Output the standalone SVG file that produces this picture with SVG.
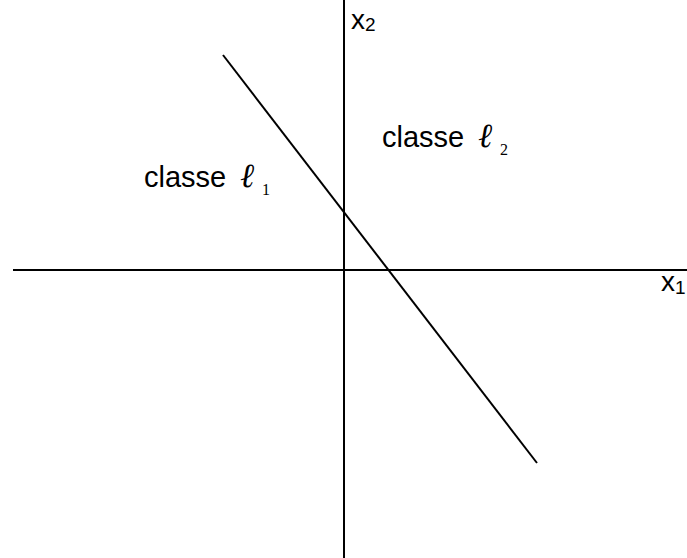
<svg xmlns="http://www.w3.org/2000/svg" width="687" height="558" viewBox="0 0 687 558">
<style>
.ln{stroke:#000;stroke-width:2;fill:none}
.t{font-family:"Liberation Sans",Arial,sans-serif;font-size:29px;fill:#000}
.ell{font-family:"Liberation Serif","Times New Roman",serif;font-style:italic;font-size:34px;fill:#000}
.sub{font-family:"Liberation Serif","Times New Roman",serif;font-size:16px;fill:#000}
.ax{font-family:"Liberation Sans",Arial,sans-serif;font-size:28px;fill:#000}
.axs{font-family:"Liberation Sans",Arial,sans-serif;font-size:19px;fill:#000}
</style>
<g id="connectors">
<line class="ln" x1="13" y1="270" x2="687" y2="270"/>
<line class="ln" x1="344" y1="0" x2="344" y2="558"/>
<line class="ln" x1="223" y1="55" x2="537" y2="463"/>
</g>
<g id="label-x2"><text class="ax" x="351" y="29">x<tspan class="axs" dy="2">2</tspan></text></g>
<g id="label-x1"><text class="ax" x="661" y="291">x<tspan class="axs" dy="3">1</tspan></text></g>
<g id="class1"><text class="t" x="144" y="187">classe</text><text class="ell" x="240" y="187">ℓ</text><text class="sub" x="262" y="195">1</text></g>
<g id="class2"><text class="t" x="382" y="147">classe</text><text class="ell" x="478" y="147">ℓ</text><text class="sub" x="500" y="155">2</text></g>
</svg>
